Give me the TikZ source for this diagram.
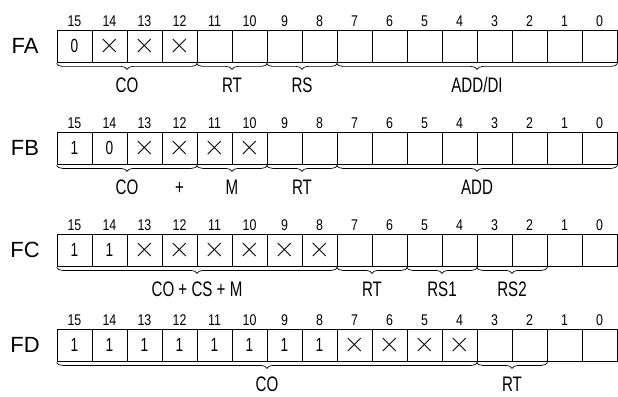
\documentclass[tikz,border=0pt]{standalone}
\usepackage{fontspec}
\setmainfont{Liberation Sans}
\newfontfamily\narrowfont{Liberation Sans}[FakeStretch=0.72]
\newfontfamily\numfont{Liberation Sans}[FakeStretch=0.8]
\newfontfamily\thinfont{Latin Modern Roman}
\usetikzlibrary{decorations.pathreplacing}
\newcommand\xx{{\thinfont\fontsize{30}{30}\selectfont ×}}
\begin{document}
\begin{tikzpicture}[x=1pt,y=-1pt,
  cell/.style={draw, line width=0.8pt, minimum width=35pt, minimum height=32pt, inner sep=0pt,
    font=\narrowfont\fontsize{19}{19}\selectfont},
  num/.style={anchor=base, yshift=3pt, inner sep=0pt, font=\numfont\fontsize{15.5}{15.5}\selectfont},
  rowlab/.style={font=\fontsize{22}{22}\selectfont, inner sep=0pt},
  brc/.style={draw, line width=0.7pt, decorate, decoration={brace, mirror, amplitude=6pt, raise=1pt}},
  lab/.style={anchor=base, yshift=-30pt, inner sep=0pt, font=\narrowfont\fontsize{21}{21}\selectfont}]
\useasboundingbox (0,0) rectangle (618,396);
\foreach \r/\y/\cells in {
  FA/30/{0,\xx,\xx,\xx,{},{},{},{},{},{},{},{},{},{},{},{}},
  FB/132/{1,0,\xx,\xx,\xx,\xx,{},{},{},{},{},{},{},{},{},{}},
  FC/234/{1,1,\xx,\xx,\xx,\xx,\xx,\xx,{},{},{},{},{},{},{},{}},
  FD/329/{1,1,1,1,1,1,1,1,\xx,\xx,\xx,\xx,{},{},{},{}}}{
  \node[rowlab] (\r-name) at (25,\y+16) {\r};
  \foreach [count=\i, evaluate=\i as \b using int(16-\i)] \c in \cells {
    \node[cell] (\r-\b) at (39.5+35*\i,\y+16) {\c};
    \node[num] (\r-n\b) at (\r-\b.north) {\b};
  }
}
% FA braces
\draw[brc] (FA-15.south west) -- node[lab] {CO} (FA-12.south east);
\draw[brc] (FA-11.south west) -- node[lab] {RT} (FA-10.south east);
\draw[brc] (FA-9.south west) -- node[lab] {RS} (FA-8.south east);
\draw[brc] (FA-7.south west) -- node[lab] {ADD/DI} (FA-0.south east);
% FB braces
\draw[brc] (FB-15.south west) -- node[lab] {CO} (FB-12.south east);
\node[lab] (FBplus) at (FB-12.south) {+};
\draw[brc] (FB-11.south west) -- node[lab] {M} (FB-10.south east);
\draw[brc] (FB-9.south west) -- node[lab] {RT} (FB-8.south east);
\draw[brc] (FB-7.south west) -- node[lab] {ADD} (FB-0.south east);
% FC braces
\draw[brc] (FC-15.south west) -- node[lab] {CO + CS + M} (FC-8.south east);
\draw[brc] (FC-7.south west) -- node[lab] {RT} (FC-6.south east);
\draw[brc] (FC-5.south west) -- node[lab] {RS1} (FC-4.south east);
\draw[brc] (FC-3.south west) -- node[lab] {RS2} (FC-2.south east);
% FD braces
\draw[brc] (FD-15.south west) -- node[lab] {CO} (FD-4.south east);
\draw[brc] (FD-3.south west) -- node[lab] {RT} (FD-2.south east);
\end{tikzpicture}
\end{document}
